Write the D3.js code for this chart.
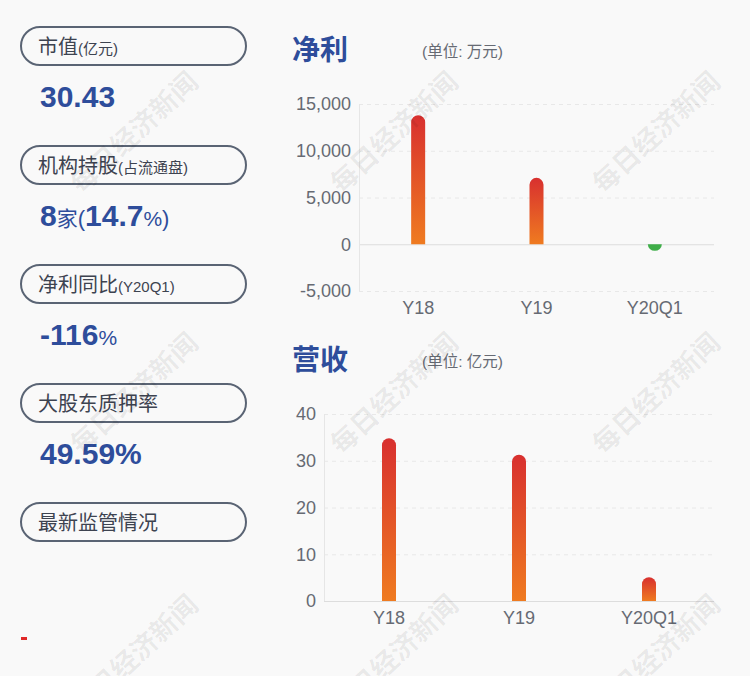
<!DOCTYPE html>
<html>
<head>
<meta charset="utf-8">
<script src="https://cdn.jsdelivr.net/npm/d3@7/dist/d3.min.js"></script>
<style>
html,body{margin:0;padding:0;background:#f9f9f9;}
svg{display:block;}
</style>
</head>
<body>
<svg id="c" width="750" height="676"></svg>
<script>
const categories = ["Y18", "Y19", "Y20Q1"];
const profitValues = [13800, 7100, -700];
const profitTicks = [15000, 10000, 5000, 0, -5000];
const revenueValues = [34.8, 31.3, 5.1];
const revenueTicks = [40, 30, 20, 10, 0];

const pillLabels = [
  [["市值", 20], ["(亿元)", 15]],
  [["机构持股", 20], ["(占流通盘)", 15]],
  [["净利同比", 20], ["(Y20Q1)", 15]],
  [["大股东质押率", 20]],
  [["最新监管情况", 20]]
];
const pillValues = [
  [["30.43", 30, "bold"]],
  [["8", 30, "bold"], ["家", 21, "normal"], ["(", 22, "normal"], ["14.7", 30, "bold"], ["%", 21, "normal"], [")", 22, "normal"]],
  [["-116", 30, "bold"], ["%", 21, "normal"]],
  [["49.59%", 30, "bold"]]
];
const watermark = "每日经济新闻";

const FONT = "'Liberation Sans', Arial, 'Noto Sans CJK SC', sans-serif";
const BLUE = "#2e4d9b";
const svg = d3.select("#c");

const defs = svg.append("defs");
const grad = defs.append("linearGradient").attr("id", "barGrad")
  .attr("x1", 0).attr("y1", 0).attr("x2", 0).attr("y2", 1);
grad.append("stop").attr("offset", "0%").attr("stop-color", "#d8302f");
grad.append("stop").attr("offset", "100%").attr("stop-color", "#ef7b20");

// Left panel
pillLabels.forEach((parts, i) => {
  const top = 27 + i * 119;
  const g = svg.append("g");
  g.append("rect").attr("x", 21).attr("y", top).attr("width", 225).attr("height", 38)
    .attr("rx", 19).attr("ry", 19).attr("fill", "none").attr("stroke", "#5a6474").attr("stroke-width", 2);
  const t = g.append("text").attr("x", 38).attr("y", top + 26.5)
    .attr("font-family", FONT).attr("fill", "#3d4350");
  parts.forEach(p => t.append("tspan").attr("font-size", p[1]).text(p[0]));
  if (pillValues[i]) {
    const v = g.append("text").attr("x", 40).attr("y", top + 80)
      .attr("font-family", FONT).attr("fill", BLUE);
    pillValues[i].forEach(p => v.append("tspan").attr("font-size", p[1]).attr("font-weight", p[2]).text(p[0]));
  }
});
svg.append("rect").attr("x", 21).attr("y", 637).attr("width", 6).attr("height", 3).attr("fill", "#e02828");

function barPath(x, w, y0, y1) {
  const r = w / 2;
  const h = Math.abs(y1 - y0);
  const rr = Math.min(r, h);
  if (y1 <= y0) {
    return `M${x},${y0}V${y1 + rr}A${r},${rr} 0 0 1 ${x + w},${y1 + rr}V${y0}Z`;
  } else {
    return `M${x},${y0}V${y1 - rr}A${r},${rr} 0 0 0 ${x + w},${y1 - rr}V${y0}Z`;
  }
}

const fmt = d => d3.format(",")(d).replace("\u2212", "-");

function drawChart(opt) {
  const g = svg.append("g");
  const y = d3.scaleLinear().domain(opt.domain).range([opt.bottom, opt.top]);
  const x = d3.scaleBand().domain(categories).range([opt.left, opt.right]);
  g.append("text").attr("x", 292).attr("y", opt.titleY).attr("font-family", "'Noto Sans CJK SC', sans-serif")
    .attr("font-size", 28).attr("font-weight", "bold").attr("fill", BLUE).text(opt.title);
  g.append("text").attr("x", 422).attr("y", opt.titleY - 3).attr("font-family", FONT)
    .attr("font-size", 15.5).attr("fill", "#666a73").text(opt.unit);
  // grid
  opt.ticks.forEach(t => {
    g.append("line").attr("x1", opt.left).attr("x2", opt.right)
      .attr("y1", y(t) + 0.5).attr("y2", y(t) + 0.5)
      .attr("stroke", t === 0 ? "#dddddd" : "#e8e8e8").attr("stroke-width", 1)
      .attr("stroke-dasharray", t === 0 ? null : "4,4");
  });
  g.append("line").attr("x1", opt.left + 0.5).attr("x2", opt.left + 0.5)
    .attr("y1", y(opt.domain[1])).attr("y2", y(opt.domain[0])).attr("stroke", "#e6e6e6");
  // y axis labels
  const ya = d3.axisLeft(y).tickValues(opt.ticks).tickSize(0).tickPadding(8).tickFormat(fmt);
  const yg = g.append("g").attr("transform", `translate(${opt.left},0)`).call(ya);
  yg.select(".domain").remove();
  yg.selectAll("text").attr("font-family", FONT).attr("font-size", 18).attr("fill", "#666a73");
  // x labels
  const xa = d3.axisBottom(x).tickSize(0).tickPadding(0);
  const xg = g.append("g").attr("transform", `translate(0,${opt.xLabelY})`).call(xa);
  xg.select(".domain").remove();
  xg.selectAll("text").attr("font-family", FONT).attr("font-size", 18).attr("fill", "#666a73")
    .attr("dy", 0).attr("y", 0);
  // bars
  const w = 14;
  g.selectAll("path.bar").data(opt.values).enter().append("path").attr("class", "bar")
    .attr("d", (d, i) => barPath(x(categories[i]) + x.bandwidth() / 2 - w / 2, w, y(0), y(d)))
    .attr("fill", d => d >= 0 ? "url(#barGrad)" : "#3fae49");
}

drawChart({
  title: "净利", unit: "(单位: 万元)", titleY: 60,
  domain: [-5000, 15000], ticks: profitTicks, values: profitValues,
  left: 359, right: 714, top: 104, bottom: 291, xLabelY: 314
});
drawChart({
  title: "营收", unit: "(单位: 亿元)", titleY: 370,
  domain: [0, 40], ticks: revenueTicks, values: revenueValues,
  left: 324, right: 714, top: 414, bottom: 601, xLabelY: 624
});

// watermarks
const wxs = [133, 393, 655], wys = [131, 392, 654];
wys.forEach(wy => wxs.forEach(wx => {
  svg.append("text").attr("transform", `translate(${wx},${wy}) rotate(-43)`)
    .attr("text-anchor", "middle").attr("dominant-baseline", "central")
    .attr("font-family", "'Noto Sans CJK SC', sans-serif").attr("font-weight", "bold")
    .attr("font-size", 27).attr("fill", "#000").attr("fill-opacity", 0.07).text(watermark);
}));
</script>
</body>
</html>
